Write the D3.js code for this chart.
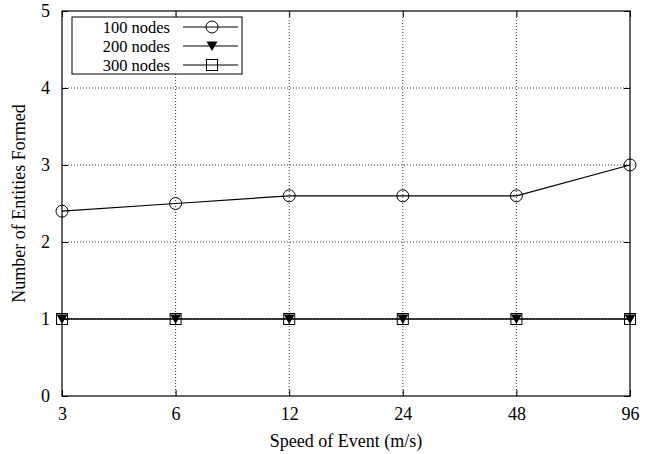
<!DOCTYPE html>
<html>
<head>
<meta charset="utf-8">
<script src="https://cdn.jsdelivr.net/npm/d3@7"></script>
<style>
  html, body { margin: 0; padding: 0; background: #fff; }
  svg { display: block; font-family: "Liberation Serif", "Times New Roman", serif; }
</style>
</head>
<body>
<svg id="chart" width="650" height="454"></svg>
<script>
// Speed of event categories (m/s)
const speeds = ["3", "6", "12", "24", "48", "96"];
// Number of entities formed per network size
const nodes100 = [2.4, 2.5, 2.6, 2.6, 2.6, 3.0];
const nodes200 = [1, 1, 1, 1, 1, 1];
const nodes300 = [1, 1, 1, 1, 1, 1];
const seriesNames = ["100 nodes", "200 nodes", "300 nodes"];
const yTicks = [0, 1, 2, 3, 4, 5];

const svg = d3.select("#chart");
const m = { left: 62, right: 630, top: 11, bottom: 396 };
const fontSize = 18;
const legendFont = 16.5;

const x = d3.scalePoint().domain(speeds).range([m.left, m.right]);
const y = d3.scaleLinear().domain([0, 5]).range([m.bottom, m.top]);

// Dotted grid
const grid = svg.append("g").attr("stroke", "#000").attr("stroke-width", 0.8)
  .attr("stroke-dasharray", "1,2");
grid.selectAll("line.gx").data(speeds.slice(1, -1)).join("line")
  .attr("x1", d => x(d)).attr("x2", d => x(d))
  .attr("y1", m.top).attr("y2", m.bottom);
grid.selectAll("line.gy").data(yTicks.slice(1, -1)).join("line")
  .attr("x1", m.left).attr("x2", m.right)
  .attr("y1", d => y(d)).attr("y2", d => y(d));

// Axes with inward ticks, mirrored on the opposite sides
const tickLen = 6;
const axB = d3.axisBottom(x).tickSize(-tickLen).tickPadding(11);
const axT = d3.axisTop(x).tickSize(-tickLen).tickFormat("");
const axL = d3.axisLeft(y).tickValues(yTicks).tickSize(-tickLen).tickPadding(12).tickFormat(d3.format("d"));
const axR = d3.axisRight(y).tickValues(yTicks).tickSize(-tickLen).tickFormat("");

function styleAxis(g) {
  g.select(".domain").remove();
  g.selectAll(".tick line").attr("stroke", "#000").attr("stroke-width", 1);
  g.selectAll(".tick text").attr("fill", "#000").attr("font-size", fontSize)
    .attr("font-family", "Liberation Serif, serif");
}
svg.append("g").attr("transform", `translate(0,${m.bottom})`).call(axB).call(styleAxis);
svg.append("g").attr("transform", `translate(0,${m.top})`).call(axT).call(styleAxis);
svg.append("g").attr("transform", `translate(${m.left},0)`).call(axL).call(styleAxis);
svg.append("g").attr("transform", `translate(${m.right},0)`).call(axR).call(styleAxis);

// Frame
svg.append("rect").attr("x", m.left).attr("y", m.top)
  .attr("width", m.right - m.left).attr("height", m.bottom - m.top)
  .attr("fill", "none").attr("stroke", "#000").attr("stroke-width", 1.2);

// Markers
function drawMarker(g, type, cx, cy) {
  if (type === "circle") {
    g.append("circle").attr("cx", cx).attr("cy", cy).attr("r", 6)
      .attr("fill", "none").attr("stroke", "#000").attr("stroke-width", 1);
  } else if (type === "tri") {
    g.append("path")
      .attr("d", `M${cx - 5.5},${cy - 4.5}L${cx + 5.5},${cy - 4.5}L${cx},${cy + 5}Z`)
      .attr("fill", "#000");
  } else {
    g.append("rect").attr("x", cx - 5.5).attr("y", cy - 5.5).attr("width", 11).attr("height", 11)
      .attr("fill", "none").attr("stroke", "#000").attr("stroke-width", 1);
  }
}

const series = [
  { name: seriesNames[0], values: nodes100, marker: "circle" },
  { name: seriesNames[1], values: nodes200, marker: "tri" },
  { name: seriesNames[2], values: nodes300, marker: "square" }
];

const line = d3.line().x((d, i) => x(speeds[i])).y(d => y(d));
series.forEach(s => {
  const g = svg.append("g");
  g.append("path").datum(s.values).attr("d", line)
    .attr("fill", "none").attr("stroke", "#000").attr("stroke-width", 1.2);
  s.values.forEach((v, i) => drawMarker(g, s.marker, x(speeds[i]), y(v)));
});

// Legend
const lg = svg.append("g");
lg.append("rect").attr("x", 72).attr("y", 17).attr("width", 170).attr("height", 57)
  .attr("fill", "#fff").attr("stroke", "#000").attr("stroke-width", 1);
series.forEach((s, i) => {
  const cy = 27 + i * 19;
  lg.append("text").attr("x", 170).attr("y", cy).attr("dy", "0.35em")
    .attr("text-anchor", "end").attr("font-size", legendFont).text(s.name);
  lg.append("line").attr("x1", 183).attr("x2", 238).attr("y1", cy).attr("y2", cy)
    .attr("stroke", "#000").attr("stroke-width", 1.2);
  drawMarker(lg, s.marker, 212, cy);
});

// Axis titles
svg.append("text").attr("x", (m.left + m.right) / 2).attr("y", 447)
  .attr("text-anchor", "middle").attr("font-size", fontSize).text("Speed of Event (m/s)");
svg.append("text").attr("transform", `translate(25,${(m.top + m.bottom) / 2}) rotate(-90)`)
  .attr("text-anchor", "middle").attr("font-size", fontSize).text("Number of Entities Formed");
</script>
</body>
</html>
